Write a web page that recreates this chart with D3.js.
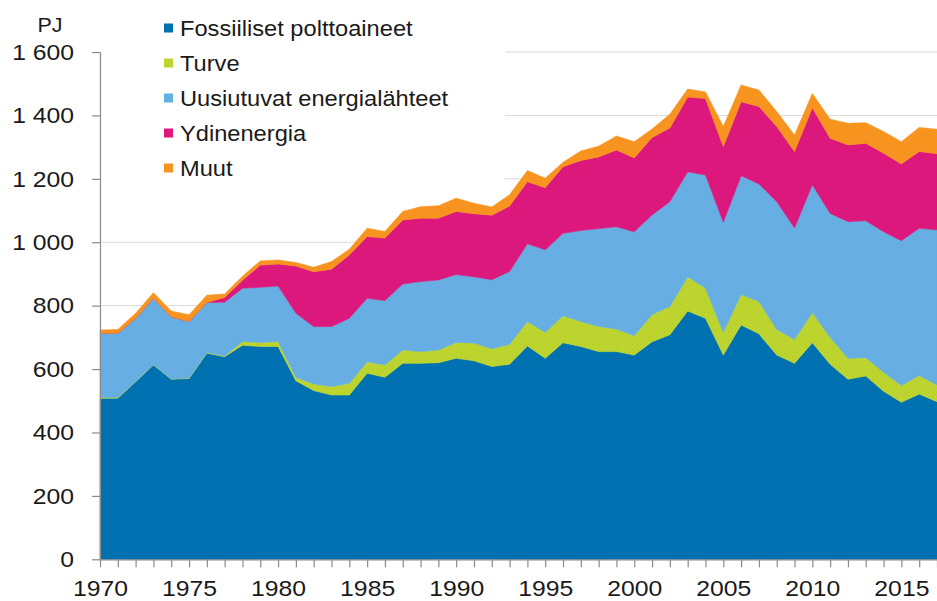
<!DOCTYPE html>
<html>
<head>
<meta charset="utf-8">
<script src="https://cdn.jsdelivr.net/npm/d3@7"></script>
<style>
	body{margin:0;background:#fff;}
	svg{display:block;font-family:"Liberation Sans",Arial,sans-serif;}
	.grid line{stroke:#d9d9d9;stroke-width:1;}
	.axis path,.axis line{stroke:#8a8a8a;stroke-width:1.2;}
	.axis text{fill:#1a1a1a;font-size:22.5px;}
</style>
</head>
<body>
<script>

// vuodet ja sarjat (PJ)
var years = [1970,1971,1972,1973,1974,1975,1976,1977,1978,1979,
	1980,1981,1982,1983,1984,1985,1986,1987,1988,1989,
	1990,1991,1992,1993,1994,1995,1996,1997,1998,1999,
	2000,2001,2002,2003,2004,2005,2006,2007,2008,2009,
	2010,2011,2012,2013,2014,2015,2016,2017];

var fossiiliset = [508,508,560,613,568,570,650,639,675,671,
	671,563,532,518,518,587,574,618,618,620,
	634,626,608,615,673,634,683,671,655,655,
	644,686,708,783,760,644,739,711,644,618,
	683,615,568,578,530,495,521,497];

var turve = [3,2,1,1,1,2,2,2,12,13,
	16,11,21,27,37,36,39,42,37,40,
	50,56,56,63,77,81,85,79,79,71,
	61,86,89,108,95,72,96,102,81,75,
	95,85,66,58,60,53,59,53];

var uusiutuvat = [202,203,199,209,196,178,158,170,168,174,
	175,202,181,189,205,200,203,208,221,221,
	214,209,218,230,245,261,260,287,309,323,
	328,314,331,331,357,347,375,371,403,352,
	403,391,431,432,443,457,464,489];

var ydinenergia = [0,0,0,0,0,0,0,15,25,70,
	69,149,173,181,200,195,197,202,200,195,
	199,199,203,206,196,196,210,221,226,242,
	233,244,232,236,241,239,233,244,237,241,
	243,237,242,244,248,242,242,240];

var muut = [10,12,16,18,18,21,23,11,13,13,
	13,11,14,24,18,26,21,27,36,39,
	42,33,26,36,35,30,14,30,34,44,
	51,27,44,25,21,63,53,52,47,52,
	45,60,68,65,68,70,76,77];

var keys = ["fossiiliset","turve","uusiutuvat","ydinenergia","muut"];
var labels = ["Fossiiliset polttoaineet","Turve","Uusiutuvat energialähteet","Ydinenergia","Muut"];
var colors = ["#0071b0","#bdd52c","#63b0e3","#df167c","#f7941f"];
var dotcolors = [null,"#a9c02a","#7b9de0","#c8237f",null];
var yTicks = [0,200,400,600,800,1000,1200,1400,1600];
var xLabelYears = [1970,1975,1980,1985,1990,1995,2000,2005,2010,2015];

var W = 937, H = 601;
var plotLeft = 100, plotRight = 937, plotTop = 52, plotBottom = 559.3;

var rows = years.map(function(y,i){
	return {year:y, fossiiliset:fossiiliset[i], turve:turve[i], uusiutuvat:uusiutuvat[i],
		ydinenergia:ydinenergia[i], muut:muut[i]};
});

var svg = d3.select("body").append("svg")
	.attr("width",W).attr("height",H);

// pisterasteri kuten alkuperäisessä
var defs = svg.append("defs");
keys.forEach(function(k,i){
	if (!dotcolors[i]) return;
	var p = defs.append("pattern").attr("id","pat_"+k)
		.attr("width",4).attr("height",4).attr("patternUnits","userSpaceOnUse");
	p.append("rect").attr("width",4).attr("height",4).attr("fill",colors[i]);
	p.append("rect").attr("x",0).attr("y",0).attr("width",1).attr("height",1)
		.attr("fill",dotcolors[i]).attr("opacity",0.55);
	p.append("rect").attr("x",2).attr("y",2).attr("width",1).attr("height",1)
		.attr("fill",dotcolors[i]).attr("opacity",0.55);
});

var xScale = d3.scaleLinear().domain([1970,2017]).range([plotLeft,plotRight]);
var yScale = d3.scaleLinear().domain([0,1600]).range([plotBottom,plotTop]);

// apuviivat
svg.append("g").attr("class","grid")
	.selectAll("line").data(yTicks.filter(function(d){return d>0;}))
	.enter().append("line")
		.attr("x1",plotLeft).attr("x2",plotRight)
		.attr("y1",function(d){return yScale(d);})
		.attr("y2",function(d){return yScale(d);});

var series = d3.stack().keys(keys)(rows);

var area = d3.area()
	.x(function(d){return xScale(d.data.year);})
	.y0(function(d){return yScale(d[0]);})
	.y1(function(d){return yScale(d[1]);});

svg.append("g").attr("class","areas")
	.selectAll("path").data(series)
	.enter().append("path")
		.attr("d",area)
		.attr("fill",function(d,i){ return dotcolors[i] ? "url(#pat_"+d.key+")" : colors[i]; })
		.attr("stroke",function(d,i){return colors[i];})
		.attr("stroke-width",0.6);

// legendan valkoinen tausta peittää apuviivat
svg.append("rect").attr("x",plotLeft+1).attr("y",0)
	.attr("width",505-plotLeft-1).attr("height",195).attr("fill","#fff");

// akselit
var xAxis = svg.append("g").attr("class","axis x")
	.attr("transform","translate(0,"+plotBottom+")")
	.call(d3.axisBottom(xScale)
		.tickValues(years)
		.tickSize(8).tickSizeOuter(0).tickPadding(13)
		.tickFormat(function(d){ return xLabelYears.indexOf(d)>=0 ? d : ""; }));
xAxis.selectAll("text").attr("transform","scale(1.1,1)");

var yAxis = svg.append("g").attr("class","axis y")
	.attr("transform","translate("+plotLeft+",0)")
	.call(d3.axisLeft(yScale)
		.tickValues(yTicks)
		.tickSize(8).tickSizeOuter(0).tickPadding(15.6)
		.tickFormat(function(d){ return d3.format(",")(d).replace(","," "); }));
yAxis.selectAll("text").attr("transform","scale(1.1,1)");

svg.append("text")
	.attr("transform","translate(50,32) scale(1.1,1)")
	.attr("text-anchor","middle")
	.style("font-size","19.5px").style("fill","#1a1a1a")
	.text("PJ");

// selite
var legend = svg.append("g").attr("class","legend");
labels.forEach(function(l,i){
	var cy = 28 + 35*i;
	legend.append("rect")
		.attr("x",164).attr("y",cy-4.5).attr("width",9).attr("height",9)
		.attr("fill",colors[i]);
	legend.append("text")
		.attr("transform","translate(180,"+(cy+8)+") scale(1.1,1)")
		.style("font-size","21.5px").style("fill","#1a1a1a")
		.text(l);
});

</script>
</body>
</html>
